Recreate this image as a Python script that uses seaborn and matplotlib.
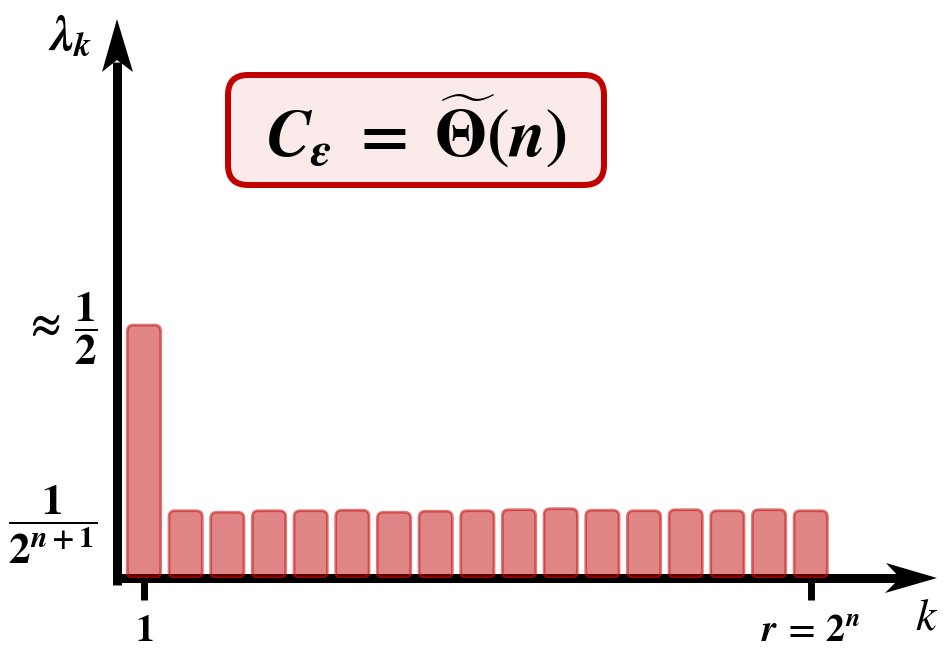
import matplotlib
matplotlib.use("Agg")
import matplotlib.pyplot as plt
import matplotlib.transforms as mtransforms
from matplotlib.patches import FancyBboxPatch, Polygon
from matplotlib.lines import Line2D
import pandas as pd
import seaborn as sns

# Eigenvalue spectrum: one dominant value, then a flat tail up to r = 2^n
k = list(range(1, 18))
lam = [0.500, 0.133, 0.130, 0.133, 0.133, 0.134, 0.130, 0.132, 0.133,
       0.135, 0.137, 0.134, 0.133, 0.135, 0.133, 0.135, 0.133]
xtick_labels = [r"$1$", r"$r\,=\,2^{n}$"]
ytick_labels = [r"$\approx\,\dfrac{1}{2}$", r"$\dfrac{1}{2^{n+1}}$"]
headline = r"$C_{\varepsilon}\;=\;\widetilde{\Theta}(n)$"
y_name = r"$\lambda_{k}$"
x_name = "k"

sns.set_theme(style="white")
plt.rcParams.update({
    "text.color": "black",
    "xtick.color": "black",
    "ytick.color": "black",
    "mathtext.fontset": "custom",
    "mathtext.rm": "STIXGeneral:bold",
    "mathtext.bf": "STIXGeneral:bold",
    "mathtext.it": "STIXGeneral:italic:bold",
    "mathtext.sf": "STIXGeneral:bold",
})

W, H = 947, 653
fig = plt.figure(figsize=(W / 100, H / 100), dpi=100)
ax = fig.add_axes([117 / W, 75 / H, 820 / W, 559 / H])
ax.set_facecolor("none")

df = pd.DataFrame({"k": k, "lam": lam})
sns.barplot(data=df, x="k", y="lam", color="#C00000", width=0.8,
            saturation=1, ax=ax)

ax.set_xlim(-0.648, 19.03)
ax.set_ylim(0, 1.105)

# swap the plain rectangles for rounded, translucent boxes
px_x = 820 / (19.03 + 0.648)
px_y = 559 / 1.105
aspect = px_x / px_y
for p in list(ax.patches):
    x0, y0, w, h = p.get_x(), p.get_y(), p.get_width(), p.get_height()
    p.remove()
    ax.add_patch(FancyBboxPatch(
        (x0, y0), w, h,
        boxstyle=f"round,pad=0,rounding_size={6 / px_x}",
        mutation_aspect=aspect,
        facecolor=(0.753, 0.0, 0.0, 0.48),
        edgecolor=(0.78, 0.05, 0.05, 0.55),
        linewidth=2.0, zorder=3))

for s in ax.spines.values():
    s.set_visible(False)
ax.set_xlabel("")
ax.set_ylabel("")
ax.set_xticks([0, 16])
ax.set_xticklabels(xtick_labels, fontsize=27)
ax.set_yticks([lam[0], lam[1]])
ax.set_yticklabels(ytick_labels, fontsize=31)
ax.tick_params(axis="x", length=16, width=5, color="black", pad=9,
               direction="out", bottom=True)
ax.tick_params(axis="y", length=0, pad=14, left=True)
for lbl, dy in zip(ax.get_yticklabels(), [11, 4]):
    lbl.set_transform(lbl.get_transform() + mtransforms.ScaledTranslation(
        0, dy / 100, fig.dpi_scale_trans))

# axes drawn as thick arrows
lw = 9 * 72 / 100
ax.add_line(Line2D([-4 / 820, (900 - 117) / 820], [0, 0], transform=ax.transAxes,
                   color="black", lw=lw, solid_capstyle="butt", clip_on=False, zorder=2))
ax.add_line(Line2D([0, 0], [-7 / 559, (578 - 62) / 559], transform=ax.transAxes,
                   color="black", lw=lw, solid_capstyle="butt", clip_on=False, zorder=2))

tx = fig.dpi_scale_trans + mtransforms.ScaledTranslation(1, 0, ax.transAxes)
ty = fig.dpi_scale_trans + mtransforms.ScaledTranslation(0, 1, ax.transAxes)
xhead = [(0, 0), (-51, 15), (-37, 0), (-52, -15)]
yhead = [(0, 0), (-15, -53), (0, -41), (16, -53)]
fig.add_artist(Polygon([(a / 100, b / 100) for a, b in xhead], closed=True,
                       transform=tx, facecolor="black", edgecolor="none"))
fig.add_artist(Polygon([(a / 100, b / 100) for a, b in yhead], closed=True,
                       transform=ty, facecolor="black", edgecolor="none"))

# axis names
fig.text(70 / W, 1 - 36 / H, y_name, fontsize=35, ha="center", va="center")
fig.text(926 / W, 1 - 620 / H, x_name, fontsize=33, ha="center", va="center",
         family="STIXGeneral", style="italic")

# headline box
fig.add_artist(FancyBboxPatch(
    (2.28, 4.68), 3.76, 1.10, boxstyle="round,pad=0,rounding_size=0.2",
    transform=fig.dpi_scale_trans, facecolor="#FBEAEA", edgecolor="#C00000",
    linewidth=6 * 72 / 100))
fig.text(416 / W, 1 - 132 / H, headline, fontsize=48, ha="center", va="center")

fig.savefig("out.png", dpi=100)
